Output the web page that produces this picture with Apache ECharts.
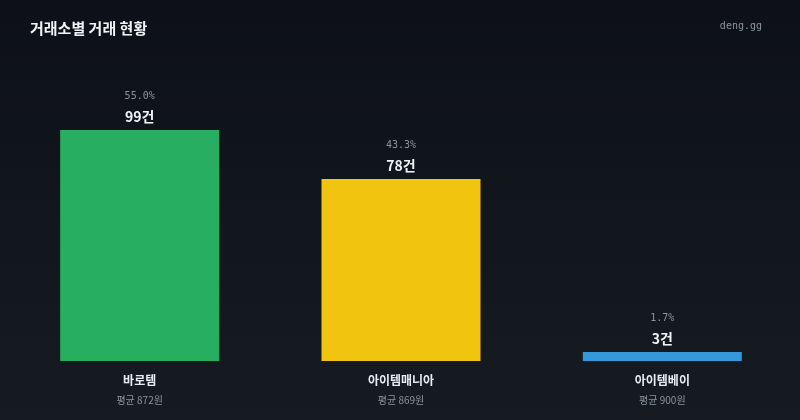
<!DOCTYPE html>
<html>
<head>
<meta charset="utf-8">
<script src="https://cdn.jsdelivr.net/npm/echarts@6/dist/echarts.min.js"></script>
<style>
html,body{margin:0;padding:0;background:#0d1117;}
#c{width:800px;height:420px;}
</style>
</head>
<body>
<div id="c"></div>
<script>
const categories = ['바로템', '아이템매니아', '아이템베이'];
const counts = [99, 78, 3];
const percents = ['55.0%', '43.3%', '1.7%'];
const avgPrices = ['872원', '869원', '900원'];
const barColors = ['#27ae60', '#f1c40f', '#3498db'];

const chart = echarts.init(document.getElementById('c'));
const sans = '"Noto Sans CJK KR", "Noto Sans", sans-serif';
const mono = '"DejaVu Sans Mono", monospace';
chart.setOption({
  backgroundColor: new echarts.graphic.LinearGradient(0, 0, 0, 1, [
    {offset: 0, color: '#0d1117'},
    {offset: 1, color: '#161b22'}
  ]),
  animation: false,
  title: [{
    text: '거래소별 거래 현황',
    left: 25, top: 16,
    textStyle: {color: '#f0f3f6', fontSize: 15, fontWeight: 'bold', fontFamily: sans}
  }, {
    text: 'deng.gg',
    right: 33, top: 16,
    textStyle: {color: '#8b949e', fontSize: 10, fontWeight: 'normal', fontFamily: mono}
  }],
  grid: {left: 9, right: 7, top: 81, bottom: 59},
  xAxis: {
    type: 'category',
    data: categories,
    axisLine: {show: false},
    axisTick: {show: false},
    axisLabel: {
      margin: 9,
      formatter: function (v, i) {
        return '{n|' + v + '}\n{a|평균 ' + avgPrices[i] + '}';
      },
      rich: {
        n: {color: '#e6edf3', fontSize: 12, fontWeight: 'bold', fontFamily: sans, lineHeight: 20},
        a: {color: '#8b949e', fontSize: 10, fontFamily: sans, lineHeight: 20}
      }
    }
  },
  yAxis: {
    type: 'value', min: 0, max: 120,
    show: false,
    splitLine: {show: false}
  },
  series: [{
    type: 'bar',
    barWidth: 159,
    barMinHeight: 9,
    data: counts.map((v, i) => ({value: v, itemStyle: {color: barColors[i]}})),
    label: {
      show: true,
      position: 'top',
      distance: 2,
      formatter: function (p) {
        return '{p|' + percents[p.dataIndex] + '}\n{c|' + p.value + '건}';
      },
      rich: {
        p: {color: '#8b949e', fontSize: 10, fontFamily: mono, lineHeight: 20},
        c: {color: '#f0f3f6', fontSize: 14, fontWeight: 'bold', fontFamily: sans, lineHeight: 22}
      }
    }
  }]
});
</script>
</body>
</html>
